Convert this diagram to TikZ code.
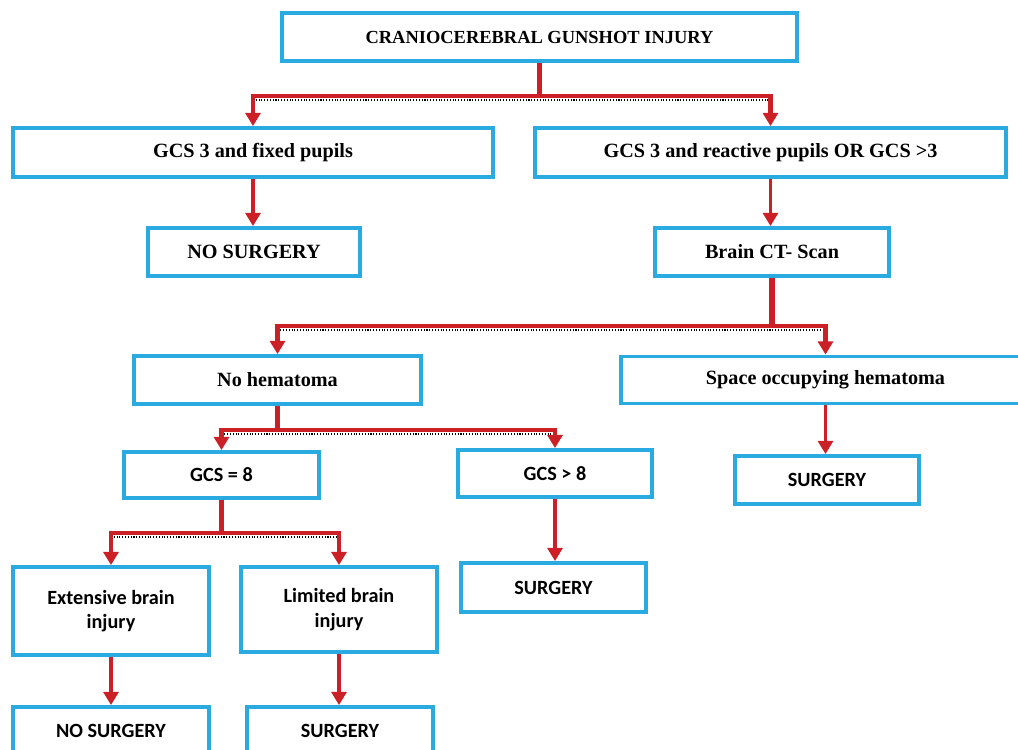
\documentclass[tikz,border=0pt]{standalone}
\usepackage{fontspec}
\setmainfont{Liberation Serif}
\newfontfamily\carlito{Carlito}
\usetikzlibrary{arrows.meta,calc}
\definecolor{boxblue}{RGB}{41,171,226}
\definecolor{arrowred}{RGB}{204,32,39}

\begin{document}
\begin{tikzpicture}[x=0.02cm, y=-0.02cm,
  box/.style={draw=boxblue, line width=2.2pt, align=center, inner sep=0pt},
  seriftext/.style={box, font=\fontsize{11.5}{13}\selectfont\bfseries},
  sanstext/.style={box, font=\carlito\fontsize{11.5}{14}\selectfont\bfseries},
  stem/.style={draw=arrowred, line width=3.2pt},
  branch/.style={draw=arrowred, line width=2.6pt, -{Triangle[length=7.5pt,width=8.5pt]}},
  straight/.style={draw=arrowred, line width=2.2pt, -{Triangle[length=7.5pt,width=8.5pt]}},
  dotline/.style={black, densely dotted, line width=0.6pt}]

\clip (0,0) rectangle (1018,750);

\node[seriftext, minimum width=10.3cm, minimum height=0.96cm, font=\fontsize{10.5}{13}\selectfont\bfseries] (top) at (539.5, 37) {CRANIOCEREBRAL GUNSHOT INJURY};
\node[seriftext, minimum width=9.6cm, minimum height=0.98cm] (fixed) at (253, 152.5) {GCS 3 and fixed pupils};
\node[seriftext, minimum width=9.42cm, minimum height=0.98cm] (reactive) at (770.5, 152.5) {GCS 3 and reactive pupils OR GCS >3};
\node[seriftext, minimum width=4.24cm, minimum height=0.96cm] (nosurgA) at (254, 252) {NO SURGERY};
\node[seriftext, minimum width=4.68cm, minimum height=0.96cm] (ctscan) at (772, 252) {Brain CT- Scan};
\node[seriftext, minimum width=5.74cm, minimum height=0.96cm] (nohem) at (277.5, 380) {No hematoma};
\node[seriftext, minimum width=8.18cm, minimum height=0.94cm] (spacehem) at (825.5, 380) {Space occupying hematoma};
\node[sanstext, minimum width=3.9cm, minimum height=0.92cm] (gcseq) at (221.5, 475) {GCS = 8};
\node[sanstext, minimum width=3.88cm, minimum height=0.94cm] (gcsgt) at (555, 473.5) {GCS > 8};
\node[sanstext, minimum width=3.68cm, minimum height=0.96cm] (surgA) at (827, 480) {SURGERY};
\node[sanstext, minimum width=3.92cm, minimum height=1.76cm] (extbrain) at (111, 611) {Extensive brain\\injury};
\node[sanstext, minimum width=3.92cm, minimum height=1.7cm] (limbrain) at (339, 609.5) {Limited brain\\injury};
\node[sanstext, minimum width=3.7cm, minimum height=0.98cm] (surgB) at (553.5, 587.5) {SURGERY};
\node[sanstext, minimum width=3.92cm, minimum height=0.96cm] (nosurgB) at (111, 731) {NO SURGERY};
\node[sanstext, minimum width=3.72cm, minimum height=0.96cm] (surgC) at (340, 731) {SURGERY};

\coordinate (j1) at (539.5, 96);
\coordinate (j2) at (772, 326);
\coordinate (j3) at (277.5, 430);
\coordinate (j4) at (221.5, 533);

\draw[dotline] ($(j1 -| fixed)+(0,4)$) -- ($(j1 -| reactive)+(0,4)$);
\draw[dotline] ($(j2 -| nohem)+(0,4)$) -- ($(j2 -| spacehem)+(0,4)$);
\draw[dotline] ($(j3 -| gcseq)+(0,4)$) -- ($(j3 -| gcsgt)+(0,4)$);
\draw[dotline] ($(j4 -| extbrain)+(0,4)$) -- ($(j4 -| limbrain)+(0,4)$);

\draw[stem] (top) -- (j1);
\draw[branch] (j1) -| (fixed);
\draw[branch] (j1) -| (reactive);

\draw[straight] (fixed) -- (fixed |- nosurgA.north);
\draw[straight] (reactive) -- (reactive |- ctscan.north);

\draw[stem] (ctscan) -- (j2);
\draw[branch] (j2) -| (nohem);
\draw[branch] (j2) -| (spacehem);

\draw[stem] (nohem) -- (j3);
\draw[branch] (j3) -| (gcseq);
\draw[branch] (j3) -| (gcsgt);

\draw[straight] (spacehem) -- (spacehem |- surgA.north);
\draw[straight] (gcsgt) -- (gcsgt |- surgB.north);

\draw[stem] (gcseq) -- (j4);
\draw[branch] (j4) -| (extbrain);
\draw[branch] (j4) -| (limbrain);

\draw[straight] (extbrain) -- (nosurgB);
\draw[straight] (limbrain) -- (limbrain |- surgC.north);

\end{tikzpicture}
\end{document}
